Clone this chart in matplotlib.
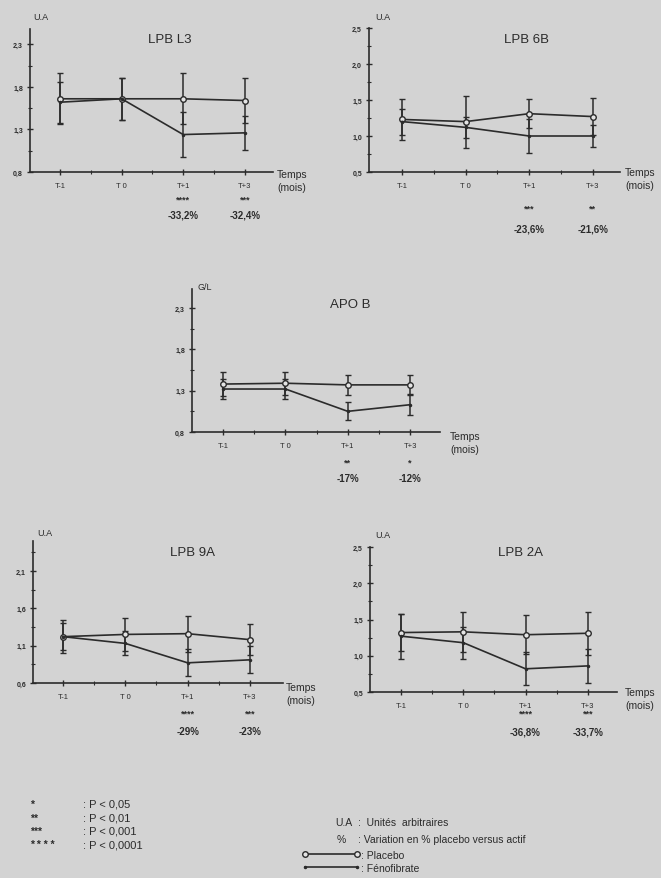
import matplotlib
matplotlib.use('Agg')
import matplotlib.pyplot as plt

plt.rcParams['font.family'] = ['Liberation Sans', 'DejaVu Sans']

# data
time_labels = ['T-1', 'T 0', 'T+1', 'T+3']
time_pos = [0, 1, 2, 3]

l3_placebo = [1.66, 1.66, 1.66, 1.64]
l3_placebo_err = [0.30, 0.25, 0.30, 0.27]
l3_feno = [1.62, 1.66, 1.24, 1.26]
l3_feno_err = [0.24, 0.25, 0.26, 0.20]
l3_stars = ['', '', '****', '***']
l3_pct = ['', '', '-33,2%', '-32,4%']

b6_placebo = [1.23, 1.20, 1.31, 1.27]
b6_placebo_err = [0.28, 0.36, 0.20, 0.26]
b6_feno = [1.20, 1.12, 1.00, 1.00]
b6_feno_err = [0.18, 0.15, 0.23, 0.15]
b6_stars = ['', '', '***', '**']
b6_pct = ['', '', '-23,6%', '-21,6%']

apob_placebo = [1.38, 1.39, 1.37, 1.37]
apob_placebo_err = [0.15, 0.14, 0.12, 0.12]
apob_feno = [1.32, 1.32, 1.05, 1.13]
apob_feno_err = [0.12, 0.12, 0.11, 0.13]
apob_stars = ['', '', '**', '*']
apob_pct = ['', '', '-17%', '-12%']

a9_placebo = [1.22, 1.25, 1.26, 1.18]
a9_placebo_err = [0.22, 0.22, 0.24, 0.21]
a9_feno = [1.22, 1.13, 0.87, 0.91]
a9_feno_err = [0.18, 0.16, 0.18, 0.18]
a9_stars = ['', '', '****', '***']
a9_pct = ['', '', '-29%', '-23%']

a2_placebo = [1.32, 1.33, 1.29, 1.31]
a2_placebo_err = [0.26, 0.28, 0.27, 0.30]
a2_feno = [1.27, 1.18, 0.82, 0.86]
a2_feno_err = [0.31, 0.22, 0.23, 0.23]
a2_stars = ['', '', '****', '***']
a2_pct = ['', '', '-36,8%', '-33,7%']

p_stars = ['*', '**', '***', '* * * *']
p_texts = [': P < 0,05', ': P < 0,01', ': P < 0,001', ': P < 0,0001']

W, H = 661, 879
BG = '#d3d3d3'
INK = '#2b2b2b'

fig = plt.figure(figsize=(W / 100, H / 100), dpi=100, facecolor=BG)


def px_axes(left, top, right, bottom):
    return fig.add_axes([left / W, 1 - bottom / H, (right - left) / W, (bottom - top) / H])


def ftext(x, y, s, **kw):
    fig.text(x / W, 1 - y / H, s, color=INK, **kw)


def panel(box, xlim, ylim, yticks, title, title_xy, unit, unit_xy,
          placebo, placebo_err, feno, feno_err, stars, pct,
          star_off, pct_off, temps_off):
    ax = px_axes(*box)
    ax.patch.set_alpha(0)
    for s in ['top', 'right']:
        ax.spines[s].set_visible(False)
    for s in ['left', 'bottom']:
        ax.spines[s].set_color(INK)
        ax.spines[s].set_linewidth(1.2)

    ax.set_yticks(yticks)
    ax.set_yticklabels([f'{v:.1f}'.replace('.', ',') for v in yticks],
                       fontsize=5, fontweight='bold', color=INK)
    step = yticks[1] - yticks[0]
    minor = [v + step / 2 for v in yticks] + [yticks[0] - step / 2]
    ax.set_yticks([v for v in minor if ylim[0] < v < ylim[1]], minor=True)
    ax.set_xticks(time_pos)
    ax.set_xticklabels(time_labels, fontsize=5.5, color=INK)
    ax.set_xticks([0.5, 1.5, 2.5], minor=True)
    ax.tick_params(which='major', direction='inout', length=4, width=1, color=INK, pad=3)
    ax.tick_params(axis='x', which='major', pad=5)
    ax.tick_params(which='minor', direction='inout', length=2.5, width=0.8, color=INK)

    pl = ax.errorbar(time_pos, placebo, yerr=placebo_err, color=INK, lw=1.2,
                     elinewidth=1.1, capsize=2, capthick=1.0, marker='o', ms=4,
                     mfc='#e4e4e4', mec=INK, mew=1.0, zorder=3)
    fe = ax.errorbar(time_pos, feno, yerr=feno_err, color=INK, lw=1.2,
                     elinewidth=1.1, capsize=2, capthick=1.0, marker='.', ms=3,
                     zorder=3)
    ax.set_xlim(*xlim)
    ax.set_ylim(*ylim)

    tr = ax.get_xaxis_transform()
    for x, st, pc in zip(time_pos, stars, pct):
        if st:
            ax.annotate(st, xy=(x, 0), xycoords=tr, xytext=(0, -star_off * 0.72),
                        textcoords='offset points', ha='center', va='center',
                        fontsize=6.5, fontweight='bold', color=INK)
        if pc:
            ax.annotate(pc, xy=(x, 0), xycoords=tr, xytext=(0, -pct_off * 0.72),
                        textcoords='offset points', ha='center', va='center',
                        fontsize=7, fontweight='bold', color=INK)

    ax.annotate('Temps', xy=(1, 0), xycoords='axes fraction',
                xytext=(temps_off[0] * 0.72, -temps_off[1] * 0.72),
                textcoords='offset points', ha='left', va='center', fontsize=7.5, color=INK)
    ax.annotate('(mois)', xy=(1, 0), xycoords='axes fraction',
                xytext=(temps_off[0] * 0.72, -(temps_off[1] + 13) * 0.72),
                textcoords='offset points', ha='left', va='center', fontsize=7.5, color=INK)

    ftext(*title_xy, title, fontsize=9.5, ha='center', va='center')
    ftext(*unit_xy, unit, fontsize=6.5, ha='left', va='center')
    return pl, fe


panel((30, 30, 273, 173), (-0.49, 3.46), (0.8, 2.48), [0.8, 1.3, 1.8, 2.3],
      'LPB L3', (170, 40), 'U.A', (33, 17),
      l3_placebo, l3_placebo_err, l3_feno, l3_feno_err, l3_stars, l3_pct,
      27, 42, (4, 2))

panel((369, 29, 620, 173), (-0.52, 3.43), (0.5, 2.5), [0.5, 1.0, 1.5, 2.0, 2.5],
      'LPB 6B', (527, 40), 'U.A', (375, 18),
      b6_placebo, b6_placebo_err, b6_feno, b6_feno_err, b6_stars, b6_pct,
      36, 57, (5, 0))

panel((192, 290, 440, 433), (-0.5, 3.48), (0.8, 2.53), [0.8, 1.3, 1.8, 2.3],
      'APO B', (350, 305), 'G/L', (198, 287),
      apob_placebo, apob_placebo_err, apob_feno, apob_feno_err, apob_stars, apob_pct,
      30, 46, (10, 4))

panel((33, 542, 283, 684), (-0.48, 3.53), (0.6, 2.5), [0.6, 1.1, 1.6, 2.1],
      'LPB 9A', (192, 553), 'U.A', (37, 534),
      a9_placebo, a9_placebo_err, a9_feno, a9_feno_err, a9_stars, a9_pct,
      30, 48, (3, 4))

pl, fe = panel((370, 548, 617, 693), (-0.5, 3.47), (0.5, 2.5), [0.5, 1.0, 1.5, 2.0, 2.5],
               'LPB 2A', (520, 553), 'U.A', (375, 535),
               a2_placebo, a2_placebo_err, a2_feno, a2_feno_err, a2_stars, a2_pct,
               21, 40, (8, 0))

# significance key
for i, (st, tx) in enumerate(zip(p_stars, p_texts)):
    y = 805 + i * 13.5
    ftext(30, y, st, fontsize=7.5, fontweight='bold', ha='left', va='center')
    ftext(83, y, tx, fontsize=8, ha='left', va='center')

# units / series key
ftext(335, 823, 'U.A', fontsize=7.5, ha='left', va='center')
ftext(358, 823, ':  Unités  arbitraires', fontsize=7.5, ha='left', va='center')
ftext(337, 840, '%', fontsize=7.5, ha='left', va='center')
ftext(358, 840, ': Variation en % placebo versus actif', fontsize=7.5, ha='left', va='center')

leg = fig.legend([pl.lines[0], fe.lines[0]], [': Placebo', ': Fénofibrate'],
                 loc='upper left', bbox_to_anchor=(302 / W, 1 - 851 / H),
                 frameon=False, fontsize=7.5, handlelength=5.6, handletextpad=0.05,
                 labelspacing=0.3, borderpad=0, borderaxespad=0, numpoints=2)
for t in leg.get_texts():
    t.set_color(INK)

fig.savefig('out.png', dpi=100, facecolor=BG)
